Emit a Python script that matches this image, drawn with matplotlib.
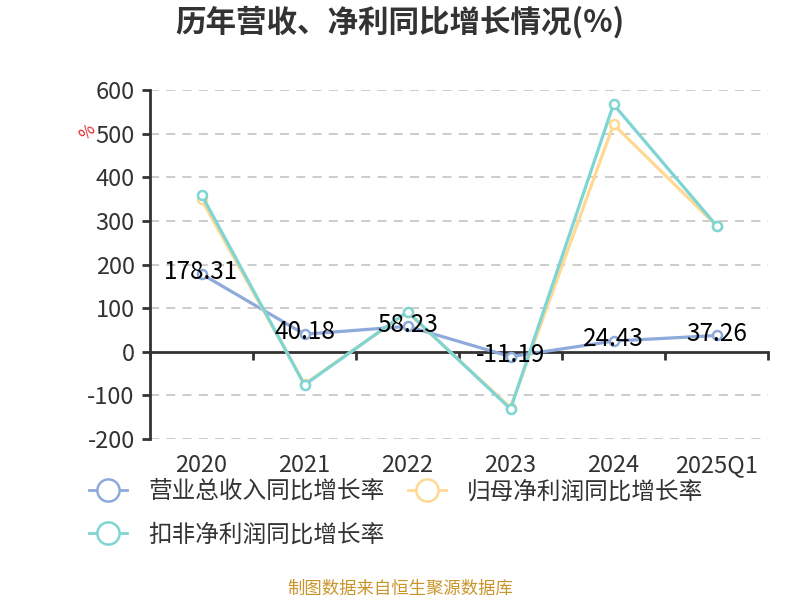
import matplotlib
matplotlib.use("Agg")
import matplotlib.pyplot as plt
from matplotlib.lines import Line2D

plt.rcParams['font.family'] = ['Noto Sans CJK SC', 'DejaVu Sans']

categories = ["2020", "2021", "2022", "2023", "2024", "2025Q1"]
revenue_growth = [178.31, 40.18, 58.23, -11.19, 24.43, 37.26]
net_profit_growth = [349, -74, 90, -128, 521, 289]
deducted_profit_growth = [360, -76, 92, -131, 567, 289]
series_names = ["营业总收入同比增长率", "归母净利润同比增长率", "扣非净利润同比增长率"]
yticks = [-200, -100, 0, 100, 200, 300, 400, 500, 600]

colors = ["#8EAADB", "#FFD992", "#7FD4D4"]

fig = plt.figure(figsize=(8, 6), dpi=100)
ax = fig.add_axes([150/800, 1 - 439/600, (768-150)/800, (439-90)/600])

x = list(range(len(categories)))
for i, (vals, c) in enumerate(zip([revenue_growth, net_profit_growth, deducted_profit_growth], colors)):
    ax.plot(x, vals, color=c, lw=2.3, marker='o', markersize=6.5,
            markerfacecolor='white', markeredgecolor=c, markeredgewidth=1.8,
            zorder=3 + i, solid_joinstyle='round')

for xi, v in zip(x, revenue_growth):
    ax.text(xi, v + 4, f"{v:.2f}", ha='center', va='center', fontsize=17.5,
            color='black', zorder=10)

ax.set_xlim(-0.5, len(categories) - 0.5)
ax.set_ylim(-200, 600)
ax.set_yticks(yticks)
ax.set_yticklabels([str(t) for t in yticks], fontsize=17, color='#333333')
ax.tick_params(axis='y', direction='out', length=6, width=2, color='#333333', pad=5)
for t in yticks:
    if t != 0:
        ax.axhline(t, color='#C8C8C8', lw=1.3, ls=(0, (5, 4)), zorder=1)

ax.set_xticks(x)
ax.set_xticklabels(categories, fontsize=17, color='#333333')
ax.tick_params(axis='x', length=0, pad=11)

for s in ['top', 'right', 'bottom']:
    ax.spines[s].set_visible(False)
ax.spines['left'].set_color('#333333')
ax.spines['left'].set_linewidth(2)

sec = ax.secondary_xaxis(0.25)
sec.set_xticks([i - 0.5 for i in range(len(categories) + 1)])
sec.set_xticklabels([])
sec.tick_params(direction='out', length=6, width=2, color='#333333')
sec.spines['bottom'].set_color('#333333')
sec.spines['bottom'].set_linewidth(2)

fig.text(0.5, 1 - 22/600, "历年营收、净利同比增长情况(%)", ha='center', va='center',
         fontsize=22, fontweight='bold', color='#333333')
fig.text(88/800, 1 - 132/600, "%", ha='center', va='center', fontsize=12,
         color='#E02020', rotation=45)

handles = [Line2D([0], [0], color=c, lw=2, marker='o', markersize=16,
                  markerfacecolor='white', markeredgecolor=c, markeredgewidth=1.8)
           for c in colors]
leg_kw = dict(frameon=False, fontsize=17, handlelength=1.6, handletextpad=0.9,
              columnspacing=1.0, labelcolor='#333333', borderpad=0, borderaxespad=0)
fig.legend(handles[:2], series_names[:2], loc='center left',
           bbox_to_anchor=(89/800, 1 - 492/600), ncol=2, **leg_kw)
fig.legend(handles[2:], series_names[2:], loc='center left',
           bbox_to_anchor=(89/800, 1 - 535/600), ncol=1, **leg_kw)

fig.text(0.5, 1 - 589/600, "制图数据来自恒生聚源数据库", ha='center', va='center',
         fontsize=12.5, color='#C9952A')

fig.savefig("out.png", dpi=100)
